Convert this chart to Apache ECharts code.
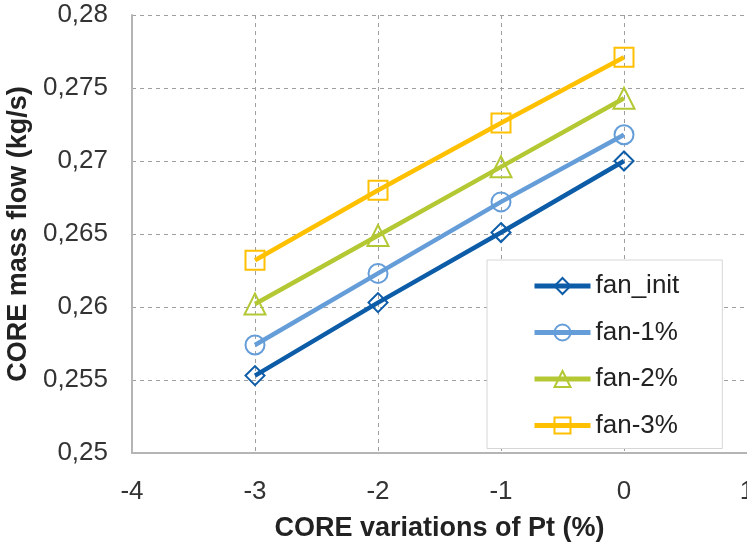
<!DOCTYPE html>
<html>
<head>
<meta charset="utf-8">
<script src="https://cdn.jsdelivr.net/npm/echarts@6/dist/echarts.min.js"></script>
<style>html,body{margin:0;padding:0;background:#fff}#c{width:747px;height:542px}</style>
</head>
<body>
<div id="c"></div>
<script>
const xValues = [-3, -2, -1, 0];
const seriesNames = ['fan_init', 'fan-1%', 'fan-2%', 'fan-3%'];
const fanInit = [0.2553, 0.2603, 0.2651, 0.2700];
const fan1 = [0.2574, 0.2623, 0.2672, 0.2718];
const fan2 = [0.2602, 0.2649, 0.2696, 0.2743];
const fan3 = [0.2632, 0.2680, 0.2726, 0.2771];
const xTicks = [-4, -3, -2, -1, 0, 1];
const yTicks = [0.25, 0.255, 0.26, 0.265, 0.27, 0.275, 0.28];

const colors = ['#0c5ca8', '#649dd8', '#b4c834', '#ffc000'];
const symbols = ['diamond', 'circle', 'triangle', 'rect'];
const symSizes = [19, 19, 21, 19];
const allData = [fanInit, fan1, fan2, fan3];

const chart = echarts.init(document.getElementById('c'), null, {renderer: 'canvas'});
const fontFam = '"Liberation Sans", Arial, sans-serif';
chart.setOption({
  animation: false,
  backgroundColor: '#fff',
  grid: {left: 132, width: 615, top: 15, bottom: 89, containLabel: false, outerBoundsMode: 'none'},
  xAxis: {
    type: 'value', min: xTicks[0], max: xTicks[xTicks.length - 1], interval: 1,
    name: 'CORE variations of Pt (%)', nameLocation: 'middle', nameGap: 62,
    nameTextStyle: {fontFamily: fontFam, fontSize: 27, fontWeight: 'bold', color: '#222'},
    axisLine: {show: true, onZero: false, lineStyle: {color: '#b5b5b5', width: 2}},
    axisTick: {show: false},
    axisLabel: {fontFamily: fontFam, fontSize: 26, color: '#333', margin: 26},
    splitLine: {show: true, lineStyle: {color: '#9e9e9e', type: [4, 4], width: 1}}
  },
  yAxis: {
    type: 'value', min: yTicks[0], max: yTicks[yTicks.length - 1], interval: 0.005,
    name: 'CORE mass flow (kg/s)', nameLocation: 'middle', nameGap: 99, nameRotate: 90,
    nameTextStyle: {fontFamily: fontFam, fontSize: 27, fontWeight: 'bold', color: '#222'},
    axisLine: {show: true, onZero: false, lineStyle: {color: '#b5b5b5', width: 2}},
    axisTick: {show: false},
    axisLabel: {fontFamily: fontFam, fontSize: 26, color: '#333', margin: 24,
      formatter: v => String(parseFloat(v.toFixed(4))).replace('.', ',')},
    splitLine: {show: true, lineStyle: {color: '#9e9e9e', type: [4, 4], width: 1}}
  },
  legend: {
    orient: 'vertical', left: 487, top: 260,
    padding: [13, 43, 10, 45], itemGap: 20.5,
    itemWidth: 56, itemHeight: 20,
    borderColor: '#d6d6d6', borderWidth: 1, backgroundColor: '#fff',
    lineStyle: {width: 5},
    textStyle: {fontFamily: fontFam, fontSize: 26, color: '#222'},
    data: seriesNames
  },
  series: seriesNames.map((n, i) => ({
    name: n, type: 'line',
    data: xValues.map((x, j) => [x, allData[i][j]]),
    symbol: symbols[i], symbolSize: symSizes[i],
    showAllSymbol: true, z: 2 + i,
    lineStyle: {color: colors[i], width: 4.5},
    itemStyle: {color: 'rgba(255,255,255,0)', borderColor: colors[i], borderWidth: 2},
    emphasis: {disabled: true}
  }))
});
</script>
</body>
</html>
